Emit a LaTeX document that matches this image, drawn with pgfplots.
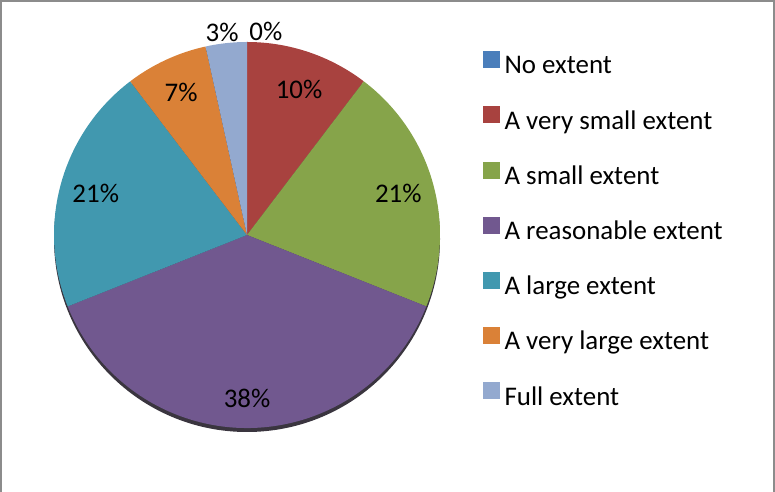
\documentclass[border=0pt]{standalone}
\usepackage{pgfplots}
\usepackage{pgfplotstable}
\pgfplotsset{compat=1.18}
\usepackage{fontspec}
\setmainfont{Carlito}

\definecolor{pie0}{HTML}{4A7EBB}
\definecolor{pie1}{HTML}{A8423F}
\definecolor{pie2}{HTML}{86A44A}
\definecolor{pie3}{HTML}{71588F}
\definecolor{pie4}{HTML}{4198AF}
\definecolor{pie5}{HTML}{DA8137}
\definecolor{pie6}{HTML}{93A9CF}
\definecolor{frame}{HTML}{8C8C8C}

% respondents per answer; lr = label distance from centre, dang = label angle nudge
\pgfplotstableread{
count lr  dang
0     204 -5.3
3     155 -1
6     157 0
11    163 0
6     157 0
2     157 0
1     204 0.8
}\piedata

\def\cx{247}
\def\cy{257}
\def\rad{193}

\pgfplotstablegetrowsof{\piedata}
\pgfmathtruncatemacro\nrows{\pgfplotsretval-1}
\gdef\total{0}
\foreach \i in {0,...,\nrows}{%
  \pgfplotstablegetelem{\i}{count}\of\piedata
  \pgfmathsetmacro\tmp{\total+\pgfplotsretval}%
  \xdef\total{\tmp}%
}
\gdef\cum{0}
\foreach \i in {0,...,\nrows}{%
  \pgfplotstablegetelem{\i}{count}\of\piedata \let\cnt\pgfplotsretval
  \pgfplotstablegetelem{\i}{lr}\of\piedata \let\lr\pgfplotsretval
  \pgfplotstablegetelem{\i}{dang}\of\piedata \let\da\pgfplotsretval
  \pgfmathsetmacro\s{90-360*\cum/\total}%
  \pgfmathsetmacro\e{90-360*(\cum+\cnt)/\total}%
  \pgfmathsetmacro\m{(\s+\e)/2+\da}%
  \pgfmathsetmacro\sx{\cx+\rad*cos(\s)}%
  \pgfmathsetmacro\sy{\cy+\rad*sin(\s)}%
  \pgfmathsetmacro\lx{\cx+\lr*cos(\m)}%
  \pgfmathsetmacro\ly{\cy+\lr*sin(\m)}%
  \pgfmathtruncatemacro\p{round(100*\cnt/\total)}%
  \expandafter\xdef\csname pieS\i\endcsname{\s}%
  \expandafter\xdef\csname pieE\i\endcsname{\e}%
  \expandafter\xdef\csname pieX\i\endcsname{\sx}%
  \expandafter\xdef\csname pieY\i\endcsname{\sy}%
  \expandafter\xdef\csname pieLX\i\endcsname{\lx}%
  \expandafter\xdef\csname pieLY\i\endcsname{\ly}%
  \expandafter\xdef\csname pieP\i\endcsname{\p}%
  \pgfmathsetmacro\tmp{\cum+\cnt}%
  \xdef\cum{\tmp}%
}

\begin{document}
\begin{tikzpicture}
\useasboundingbox (0,0) rectangle (775bp,492bp);
\draw[frame, line width=2bp] (1bp,0) -- (1bp,491bp) -- (774bp,491bp) -- (774bp,0);
\begin{axis}[
    at={(0,0)}, anchor=south west,
    width=775bp, height=492bp, scale only axis,
    xmin=0, xmax=775, ymin=0, ymax=492,
    hide axis, clip=false,
    font=\fontsize{27}{32}\selectfont,
    legend style={at={(axis cs:480,443)}, anchor=north west,
        draw=none, fill=none, row sep=26.5bp, column sep=5bp,
        font=\fontsize{27}{32}\selectfont,
        nodes={inner sep=0pt, text height=19bp, text depth=6bp}},
    legend cell align=left,
    legend image code/.code={\fill[#1] (0bp,0bp) rectangle (16bp,16bp);},
]
% slight rim shadow under the pie
\fill[black!80!pie3, opacity=0.85] (axis cs:\cx,\cy-4) circle[radius=\rad bp];
\pgfplotsinvokeforeach{0,...,6}{
  \fill[pie#1] (axis cs:\cx,\cy) -- (axis cs:\csname pieX#1\endcsname,\csname pieY#1\endcsname)
     arc[start angle=\csname pieS#1\endcsname, end angle=\csname pieE#1\endcsname, radius=\rad bp] -- cycle;
}
\pgfplotsinvokeforeach{0,...,6}{
  \node at (axis cs:\csname pieLX#1\endcsname,\csname pieLY#1\endcsname) {\csname pieP#1\endcsname\%};
}
\addlegendimage{pie0}\addlegendentry{No extent}
\addlegendimage{pie1}\addlegendentry{A very small extent}
\addlegendimage{pie2}\addlegendentry{A small extent}
\addlegendimage{pie3}\addlegendentry{A reasonable extent}
\addlegendimage{pie4}\addlegendentry{A large extent}
\addlegendimage{pie5}\addlegendentry{A very large extent}
\addlegendimage{pie6}\addlegendentry{Full extent}
\end{axis}
\end{tikzpicture}
\end{document}
